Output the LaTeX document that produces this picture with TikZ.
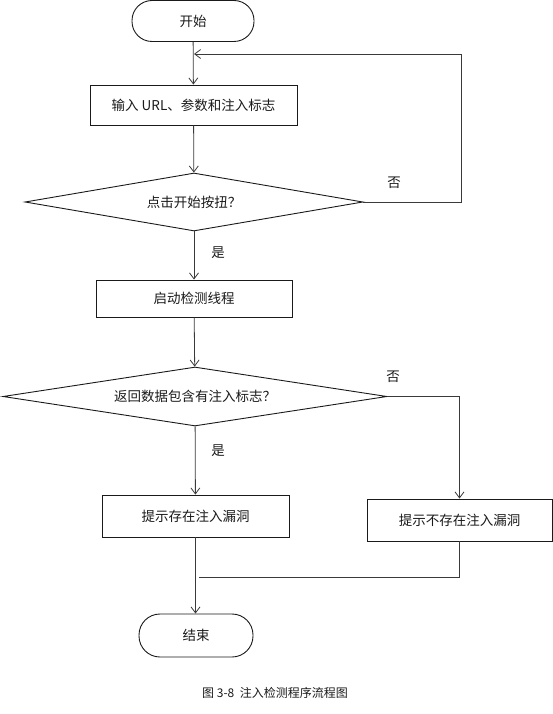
\documentclass[tikz,border=0pt]{standalone}
\usepackage{fontspec}
\usepackage{tikz}
\usepackage{xcolor}
\usetikzlibrary{shapes.geometric,arrows.meta,calc}
\newfontfamily\cjk{Noto Sans CJK SC}
\definecolor{Ink}{HTML}{1A1A1A}
\definecolor{Wire}{HTML}{3A3A3A}

\begin{document}
\begin{tikzpicture}[x=1pt,y=-1pt,
  every node/.style={font=\cjk\fontsize{13.5}{16}\selectfont,text=Ink},
  term/.style={draw=Ink,line width=0.9pt,rectangle,rounded corners=20pt,minimum width=#1,minimum height=41pt,inner sep=0pt},
  proc/.style={draw=Ink,line width=0.9pt,rectangle,inner sep=0pt},
  ask/.style={draw=Ink,line width=0.9pt,diamond,inner sep=0pt},
  arr/.style={draw=Wire,line width=0.8pt,-{Straight Barb[length=6pt,width=9pt]}},
  wire/.style={draw=Wire,line width=0.8pt}]
  \useasboundingbox (0,0) rectangle (553,714);

  \node[term=122pt] (start) at (193,21) {开始};
  \node[proc,minimum width=207pt,minimum height=40pt] (input) at (193.5,105) {输入 URL、参数和注入标志};
  \node[ask,aspect=5.8,minimum width=338pt,minimum height=58pt] (click) at (194,202) {点击开始按扭？};
  \node[proc,minimum width=196pt,minimum height=37pt] (thread) at (194,298.5) {启动检测线程};
  \node[ask,aspect=6.5,minimum width=384pt,minimum height=59pt] (check) at (195,396.5) {返回数据包含有注入标志？};
  \node[proc,minimum width=187pt,minimum height=42pt] (found) at (195.5,516) {提示存在注入漏洞};
  \node[proc,minimum width=185pt,minimum height=42pt] (safe) at (459.5,520) {提示不存在注入漏洞};
  \node[term=114pt,minimum height=43pt,rounded corners=21pt] (stop) at (196,635.5) {结束};

  \coordinate (turn) at (461,54);
  \coordinate (back) at (194,54);
  \coordinate (join) at (199,577);

  \draw[arr] (start) -- (input);
  \draw[arr] (input) -- (click);
  \draw[arr] (click) -- (thread);
  \draw[arr] (click.east) -| (turn) -- (back);
  \draw[arr] (thread) -- (check);
  \draw[arr] (check) -- (found);
  \draw[arr] (check.east) -| (safe.north);
  \draw[arr] (found) -- (found |- stop.north);
  \draw[wire] (safe.south) |- (join);

  \node (yes1) at (218,253) {是};
  \node (no1) at (394,183) {否};
  \node (yes2) at (218,451) {是};
  \node (no2) at (393,377) {否};

  \node[font=\cjk\fontsize{12}{14}\selectfont] (caption) at (275,693) {图 3-8\ \ 注入检测程序流程图};
\end{tikzpicture}
\end{document}
